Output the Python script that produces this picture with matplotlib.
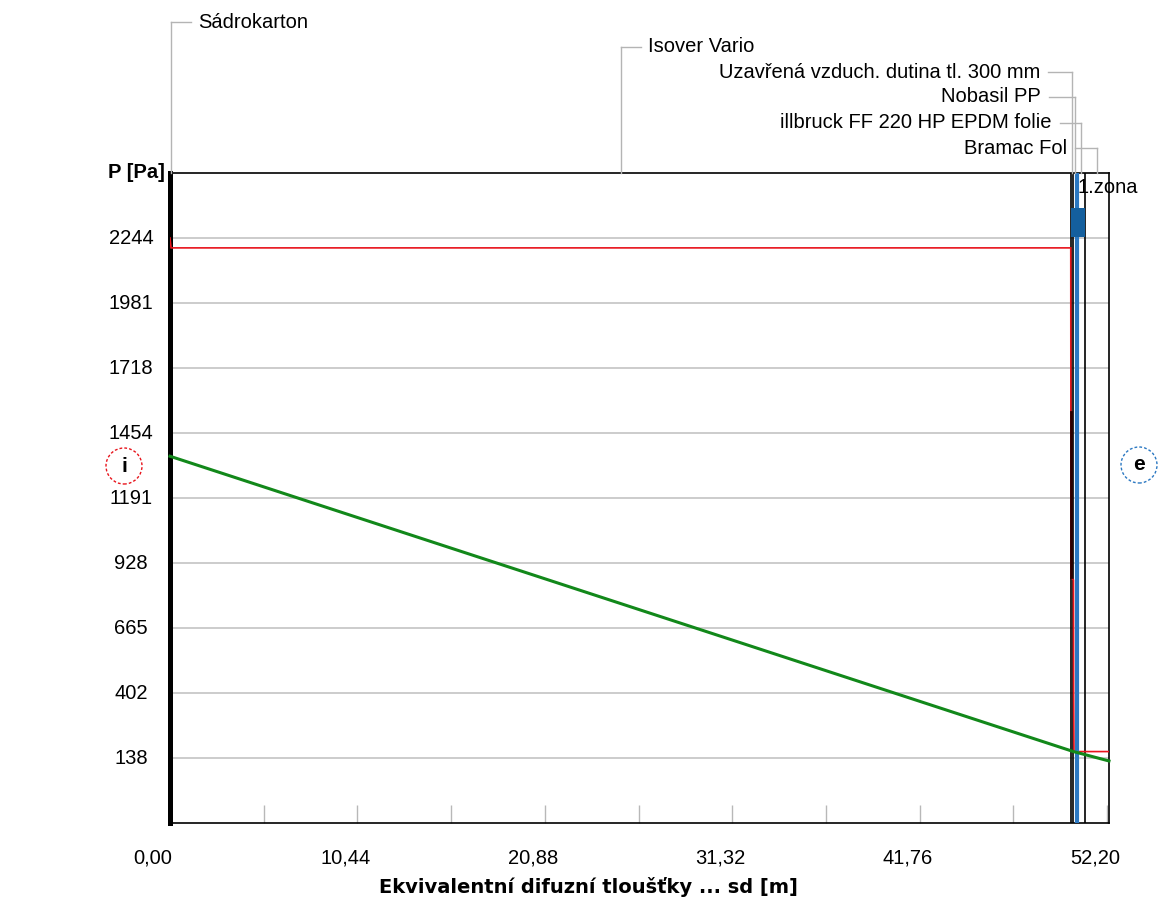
import matplotlib
matplotlib.use('Agg')
import matplotlib.pyplot as plt
import matplotlib.transforms as mtransforms
from matplotlib.patches import Circle, Rectangle

plt.rcParams['font.family'] = ['Liberation Sans', 'DejaVu Sans']

# ---------------- data ----------------
layer_names = ['Sádrokarton', 'Isover Vario', 'Uzavřená vzduch. dutina tl. 300 mm',
               'Nobasil PP', 'illbruck FF 220 HP EPDM folie', 'Bramac Fol']
layer_bounds = [0.0, 0.06, 50.18, 50.33, 50.55, 50.97, 52.31]

x_tick_pos = [0.0, 5.22, 10.44, 15.66, 20.88, 26.10, 31.32, 36.54, 41.76, 46.98, 52.20]
x_label_pos = [0.0, 10.44, 20.88, 31.32, 41.76, 52.20]
x_labels = ['0,00', '10,44', '20,88', '31,32', '41,76', '52,20']
y_ticks = [138, 402, 665, 928, 1191, 1454, 1718, 1981, 2244]
y_labels = ['138', '402', '665', '928', '1191', '1454', '1718', '1981', '2244']

# saturated vapour pressure (red)
psat_x = [0.0, 0.06, 50.18, 50.19, 50.33, 50.34, 50.36, 52.31]
psat_y = [2244, 2204, 2204, 871, 860, 414, 166, 166]
# dark overlay segment
dark_x = [50.17, 50.17]
dark_y = [1539, 871]
# partial vapour pressure (green)
pv_x = [0.0, 50.33, 52.31]
pv_y = [1361, 166, 128]
# condensation zone
zone_line_x = 50.53
zone_x0, zone_x1 = 50.18, 50.97
zone_label = '1.zona'

# ---------------- figure ----------------
W, H = 1160, 902
fig = plt.figure(figsize=(W / 100, H / 100), dpi=100)
ax = fig.add_axes([170 / W, (H - 823) / H, 939 / W, 650 / H])
ax.set_xlim(0, 52.31)
ax.set_ylim(-123, 2507)

ax.set_yticks(y_ticks)
ax.tick_params(axis='y', length=0, labelleft=False)
ax.grid(axis='y', color='#c8c8c8', lw=1.3, zorder=0)
ax.set_axisbelow(True)

ax.set_xticks(x_tick_pos)
ax.tick_params(axis='x', direction='in', length=13, width=1.0, color='#b8b8b8', labelbottom=False)

for s in ['top', 'right', 'bottom']:
    ax.spines[s].set_linewidth(1.2)
    ax.spines[s].set_color('black')
ax.spines['left'].set_linewidth(3.6)
ax.spines['left'].set_color('black')

# layer boundaries
for b in layer_bounds[2:-1]:
    ax.axvline(b, color='black', lw=1.2, zorder=3)

# curves
ax.plot(psat_x, psat_y, color='#e8141c', lw=1.2, zorder=4, solid_joinstyle='miter')
ax.plot(dark_x, dark_y, color='#2a0000', lw=2.0, zorder=4)
ax.plot(pv_x, pv_y, color='#12881a', lw=2.2, zorder=5, clip_on=False)

# condensation zone
ax.axvline(zone_line_x, color='#2b78c2', lw=3.0, zorder=4)
bt = mtransforms.blended_transform_factory(ax.transData, ax.transAxes)
ax.add_patch(Rectangle((zone_x0, 0.9015), zone_x1 - zone_x0, 0.0445, transform=bt,
                       facecolor='#145f9e', edgecolor='none', zorder=4))
ax.text(50.58, 0.978, zone_label, transform=bt, ha='left', va='center',
        fontsize=14.5, clip_on=False, zorder=6)

# tick labels
fig.canvas.draw()
xt = mtransforms.blended_transform_factory(ax.transData, fig.transFigure) + \
    mtransforms.ScaledTranslation(-37 / 100, 0, fig.dpi_scale_trans)
for p, lab in zip(x_label_pos, x_labels):
    fig.text(p, (H - 858) / H, lab, transform=xt, ha='left', va='center', fontsize=14.5)

yt = mtransforms.blended_transform_factory(fig.transFigure, ax.transData)
for v, lab in zip(y_ticks, y_labels):
    fig.text(131 / W, v, lab, transform=yt, ha='center', va='center', fontsize=14.5)

fig.text(108 / W, (H - 172) / H, 'P [Pa]', fontweight='bold', fontsize=14.5, ha='left', va='center')
fig.text(588 / W, (H - 887) / H, 'Ekvivalentní difuzní tloušťky ... sd [m]', fontweight='bold',
         fontsize=14, ha='center', va='center', family=['DejaVu Sans'])

# layer leader lines and names
def px_x(sd):
    return ax.transData.transform((sd, 0))[0]

mids = [(layer_bounds[i] + layer_bounds[i + 1]) / 2 for i in range(len(layer_names))]
# (text anchor x px, y px from top, side)
label_layout = [(198, 22, 'left'), (648, 47, 'left'), (1040, 72, 'right'),
                (1041, 97, 'right'), (1052, 123, 'right'), (1067, 148, 'right')]
lead_col = '#b4b4b4'
top_px = 173
for name, m, (tx, ty, side) in zip(layer_names, mids, label_layout):
    lx = px_x(m)
    if side == 'left':
        hx = [lx, tx - 7]
        ha = 'left'
    else:
        hx = [tx + 8, lx]
        ha = 'right'
    fig.add_artist(plt.Line2D([hx[0] / W, hx[1] / W], [(H - ty) / H, (H - ty) / H],
                              color=lead_col, lw=1.0, transform=fig.transFigure))
    fig.add_artist(plt.Line2D([lx / W, lx / W], [(H - ty) / H, (H - top_px) / H],
                              color=lead_col, lw=1.0, transform=fig.transFigure))
    fig.text(tx / W, (H - ty) / H, name, ha=ha, va='center', fontsize=14.5)

# interior / exterior markers
for cx, cy, letter, col in [(124, 466, 'i', '#e8141c'), (1139, 465, 'e', '#2b78c2')]:
    c = Circle((cx / 100, (H - cy) / 100), 0.18, transform=fig.dpi_scale_trans,
               facecolor='white', edgecolor=col, lw=1.0, ls=(0, (2, 1.5)))
    fig.add_artist(c)
    fig.text(cx / W, (H - cy) / H, letter, ha='center', va='center', fontweight='bold', fontsize=15)

fig.savefig('out.png', dpi=100)
